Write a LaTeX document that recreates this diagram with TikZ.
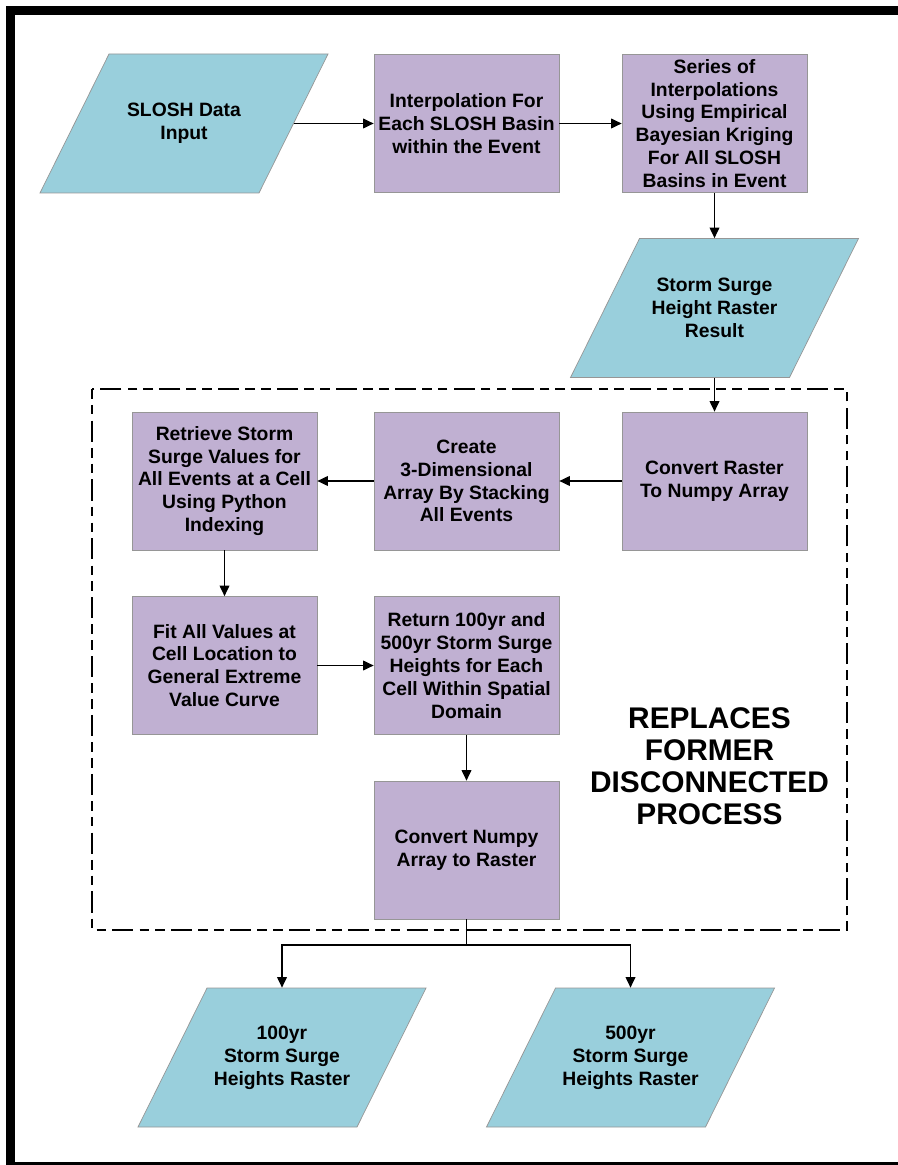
\documentclass[tikz,border=0pt]{standalone}
\usepackage{fontspec}
\setmainfont{Liberation Sans}
\usetikzlibrary{arrows.meta}
\definecolor{datablue}{RGB}{153,207,220}
\definecolor{procpurple}{RGB}{192,176,210}
\definecolor{edgegray}{RGB}{150,150,150}

% slanted data box: name, x, y, text
\newcommand{\datanode}[4]{%
  \draw[draw=edgegray, fill=datablue, line width=0.4pt]
    (#2-144,#3+69.5) -- (#2+75,#3+69.5) -- (#2+144,#3-69.5) -- (#2-75,#3-69.5) -- cycle;
  \node[datatext] (#1) at (#2,#3) {#4};}

\begin{document}
\begin{tikzpicture}[x=0.02cm,y=-0.02cm,
    process/.style={rectangle, draw=edgegray, fill=procpurple, line width=0.4pt,
      minimum width=3.7cm, minimum height=2.76cm, inner sep=0pt, align=center,
      font=\fontsize{11}{13}\selectfont\bfseries},
    datatext/.style={rectangle, minimum width=4.38cm, minimum height=2.78cm,
      inner sep=0pt, align=center, font=\fontsize{11}{13}\selectfont\bfseries},
    flow/.style={-{Triangle[length=6pt,width=5.5pt]}, line width=0.85pt},
    boundary/.style={line width=1.1pt, dash pattern=on 5.5pt off 3.5pt on 5.5pt off 3.5pt on 12pt off 3.5pt}]
        \useasboundingbox (0,0) rectangle (898,1165);
        \clip (0,0) rectangle (898,1165);
        % \draw[help lines, gray!50, very thin] (0,0) grid[step=50] (898,1165);

        % page frame
        \draw[line width=0.18cm] (10.5,10.5) rectangle (903,1166.5);

        % top row
        \datanode{slosh}{184}{123.5}{SLOSH Data\\Input}
        \node[process] (interp) at (466.5,123.5) {Interpolation For\\Each SLOSH Basin\\within the Event};
        \node[process] (series) at (714.5,123.5) {Series of\\Interpolations\\Using Empirical\\Bayesian Kriging\\For All SLOSH\\Basins in Event};
        \datanode{surge}{714.5}{308}{Storm Surge\\Height Raster\\Result}

        % replaced part
        \draw[boundary] (92,389) rectangle (847,930);
        \node[process] (toarray) at (714.5,481) {Convert Raster\\To Numpy Array};
        \node[process] (stack) at (466.5,481) {Create\\3-Dimensional\\Array By Stacking\\All Events};
        \node[process] (retrieve) at (224.5,481) {Retrieve Storm\\Surge Values for\\All Events at a Cell\\Using Python\\Indexing};
        \node[process] (fit) at (224.5,665.5) {Fit All Values at\\Cell Location to\\General Extreme\\Value Curve};
        \node[process] (heights) at (466.5,665.5) {Return 100yr and\\500yr Storm Surge\\Heights for Each\\Cell Within Spatial\\Domain};
        \node[process] (toraster) at (466.5,850) {Convert Numpy\\Array to Raster};
        \node[font=\fontsize{17}{18.2}\selectfont\bfseries, align=center] (replaces) at (709.5,766) {REPLACES\\FORMER\\DISCONNECTED\\PROCESS};

        % outputs
        \datanode{out100}{282}{1057.5}{100yr\\Storm Surge\\Heights Raster}
        \datanode{out500}{630.5}{1057.5}{500yr\\Storm Surge\\Heights Raster}
        \coordinate (split) at (466.5,945);

        \draw[flow] (slosh) -- (interp);
        \draw[flow] (interp) -- (series);
        \draw[flow] (series) -- (surge);
        \draw[flow] (surge) -- (toarray);
        \draw[flow] (toarray) -- (stack);
        \draw[flow] (stack) -- (retrieve);
        \draw[flow] (retrieve) -- (fit);
        \draw[flow] (fit) -- (heights);
        \draw[flow] (heights) -- (toraster);
        \draw[line width=0.85pt] (toraster) -- (split);
        \draw[flow] (split) -| (out100);
        \draw[flow] (split) -| (out500);
      \end{tikzpicture}
\end{document}
